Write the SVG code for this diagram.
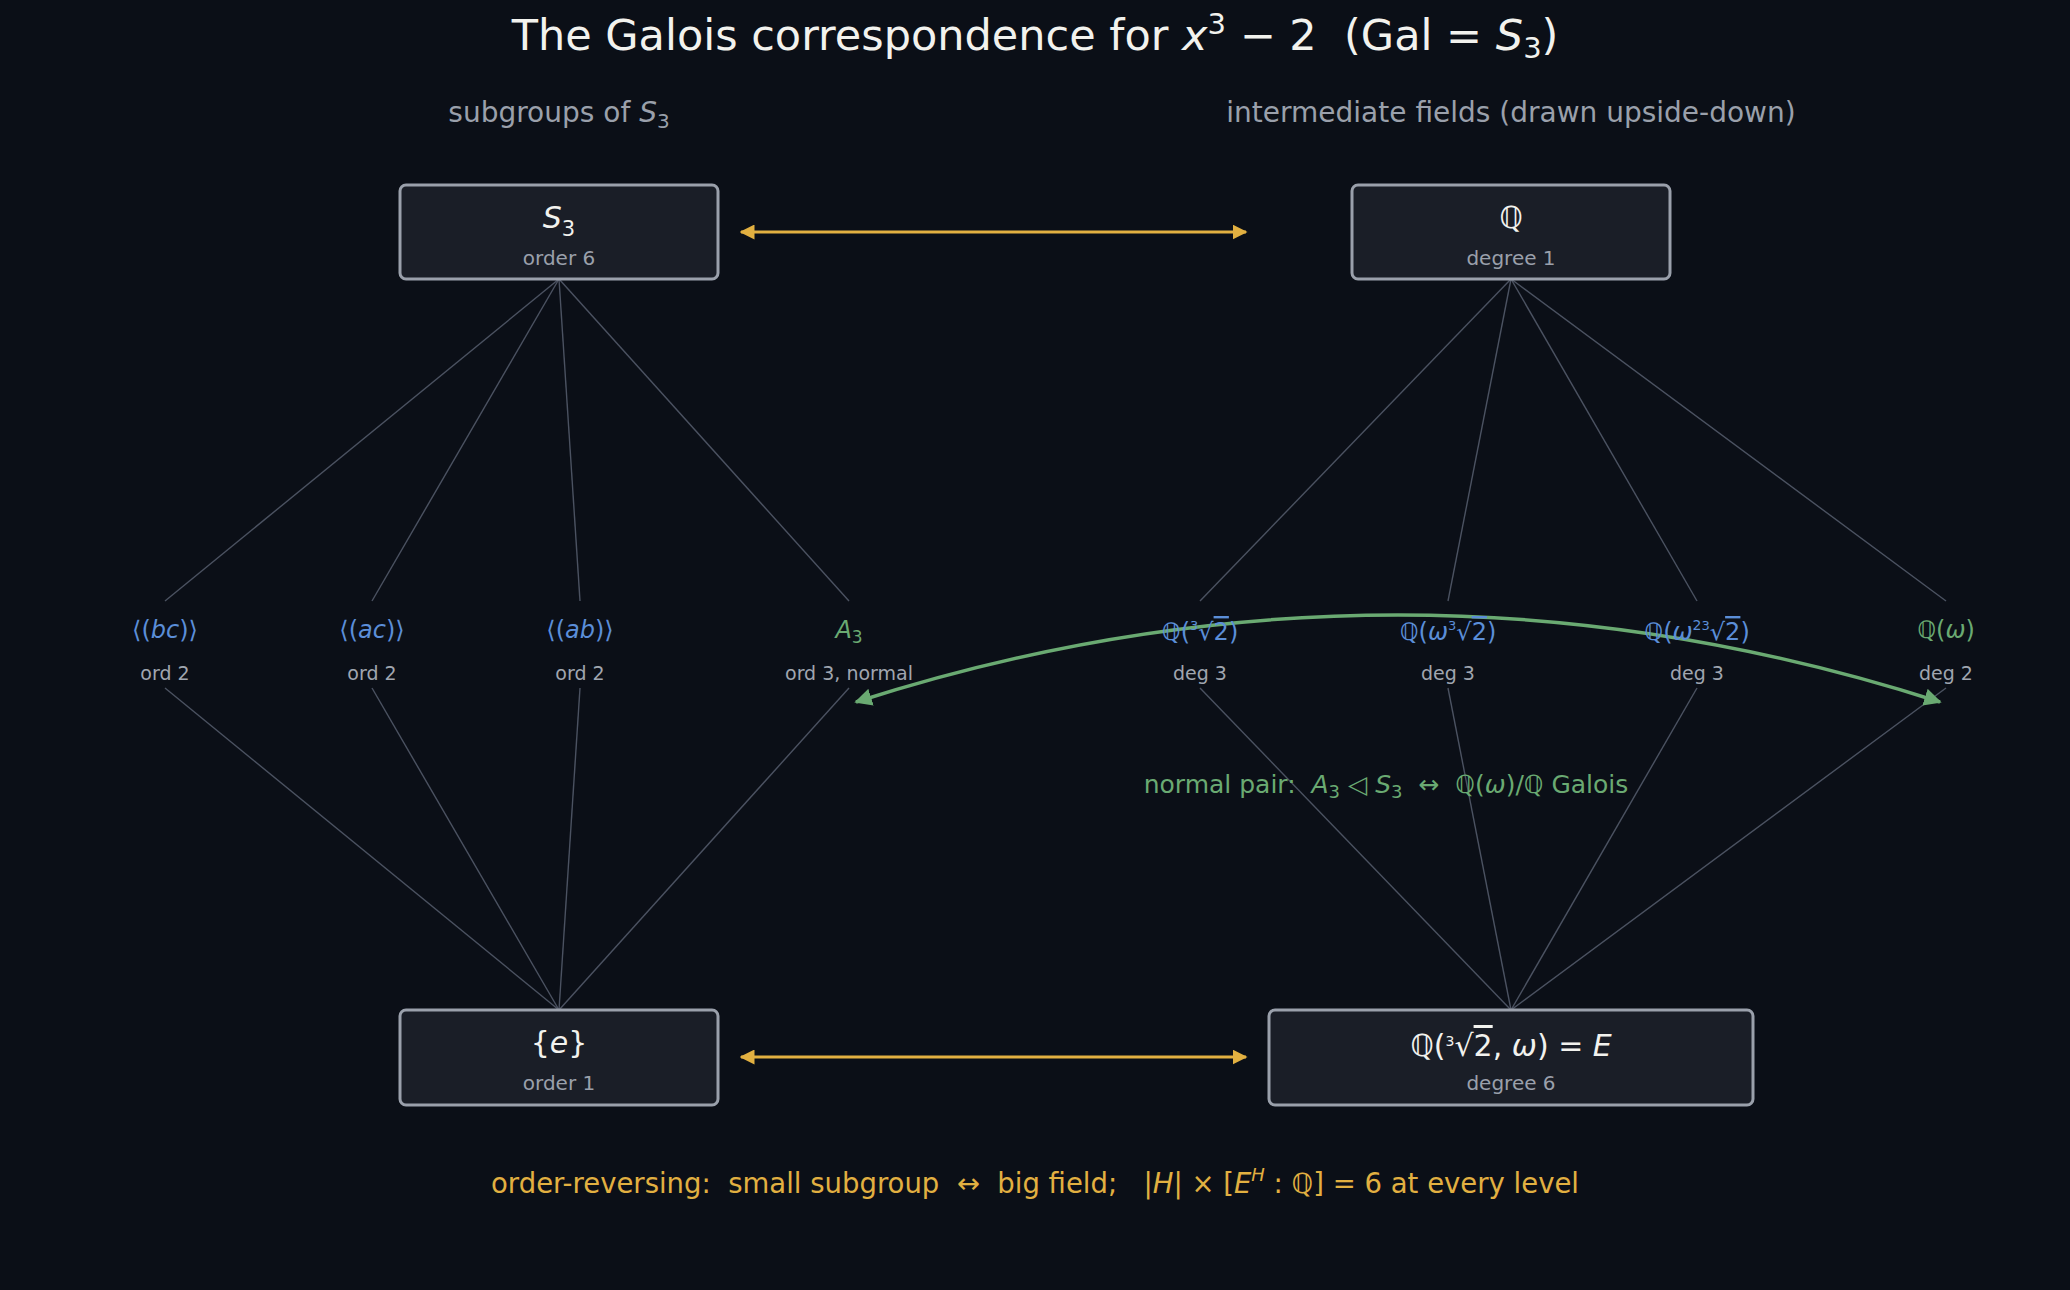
<svg xmlns="http://www.w3.org/2000/svg" width="2070" height="1290" viewBox="0 0 2070 1290" xml:space="preserve">
<defs>
<style>
text{font-family:"DejaVu Sans","Noto Sans",sans-serif;text-anchor:middle;white-space:pre}
.title{font-size:43px;fill:#f2f2ee}
.head{font-size:28px;fill:#9aa0ab}
.box{fill:#1a1e27;stroke:#9aa0ab;stroke-width:3}
.main{font-size:30px;fill:#f2f2ee}
.sub{font-size:20px;fill:#9aa0ab}
.lbl{font-size:24px;fill:#5b8ed8}
.lblg{font-size:24px;fill:#6aaa72}
.small{font-size:19px;fill:#a0a6b0}
.edge{stroke:#4b5261;stroke-width:1.4;fill:none}
.corr{stroke:#e2b041;stroke-width:3;fill:none}
.i{font-style:italic}
.ov{text-decoration:overline}
</style>
<marker id="ay" viewBox="0 0 10 10" refX="9" refY="5" markerWidth="5" markerHeight="5" orient="auto-start-reverse"><path d="M0,0 L10,5 L0,10 z" fill="#e2b041"/></marker>
<marker id="ag" viewBox="0 0 10 10" refX="9" refY="5" markerWidth="5" markerHeight="5" orient="auto-start-reverse"><path d="M0,0 L10,5 L0,10 z" fill="#6aaa72"/></marker>
</defs>
<rect width="2070" height="1290" fill="#0b0f17"/>
<text class="title" x="1035" y="50">The Galois correspondence for <tspan class="i">x</tspan><tspan dy="-16" font-size="29">3</tspan><tspan dy="16"> − 2  (Gal = </tspan><tspan class="i">S</tspan><tspan dy="8" font-size="29">3</tspan><tspan dy="-8">)</tspan></text>
<text class="head" x="559" y="122">subgroups of <tspan class="i">S</tspan><tspan dy="6" font-size="20">3</tspan></text>
<text class="head" x="1511" y="122">intermediate fields (drawn upside-down)</text>
<g id="connectors">
<line class="edge" x1="559" y1="279" x2="165" y2="601"/>
<line class="edge" x1="559" y1="279" x2="372" y2="601"/>
<line class="edge" x1="559" y1="279" x2="580" y2="601"/>
<line class="edge" x1="559" y1="279" x2="849" y2="601"/>
<line class="edge" x1="165" y1="688" x2="559" y2="1010"/>
<line class="edge" x1="372" y1="688" x2="559" y2="1010"/>
<line class="edge" x1="580" y1="688" x2="559" y2="1010"/>
<line class="edge" x1="849" y1="688" x2="559" y2="1010"/>
<line class="edge" x1="1511" y1="279" x2="1200" y2="601"/>
<line class="edge" x1="1511" y1="279" x2="1448" y2="601"/>
<line class="edge" x1="1511" y1="279" x2="1697" y2="601"/>
<line class="edge" x1="1511" y1="279" x2="1946" y2="601"/>
<line class="edge" x1="1200" y1="688" x2="1511" y2="1010"/>
<line class="edge" x1="1448" y1="688" x2="1511" y2="1010"/>
<line class="edge" x1="1697" y1="688" x2="1511" y2="1010"/>
<line class="edge" x1="1946" y1="688" x2="1511" y2="1010"/>
<line class="corr" x1="741" y1="232" x2="1246" y2="232" marker-start="url(#ay)" marker-end="url(#ay)"/>
<line class="corr" x1="741" y1="1057" x2="1246" y2="1057" marker-start="url(#ay)" marker-end="url(#ay)"/>
<path d="M856,702 Q1398,528 1940,702" stroke="#6aaa72" stroke-width="3.5" fill="none" marker-start="url(#ag)" marker-end="url(#ag)"/>
</g>
<g id="n-S3"><rect class="box" x="400" y="185" width="318" height="94" rx="6"/><text class="main" x="559" y="228"><tspan class="i">S</tspan><tspan dy="8" font-size="21">3</tspan></text><text class="sub" x="559" y="265">order 6</text></g>
<g id="n-Q"><rect class="box" x="1352" y="185" width="318" height="94" rx="6"/><text class="main" x="1511" y="228">ℚ</text><text class="sub" x="1511" y="265">degree 1</text></g>
<g id="n-e"><rect class="box" x="400" y="1010" width="318" height="95" rx="6"/><text class="main" x="559" y="1053">{<tspan class="i">e</tspan>}</text><text class="sub" x="559" y="1090">order 1</text></g>
<g id="n-E"><rect class="box" x="1269" y="1010" width="484" height="95" rx="6"/><text class="main" x="1511" y="1056" font-size="28">ℚ(<tspan dy="-10" font-size="14">3</tspan><tspan dy="10">√</tspan><tspan class="ov">2</tspan>, <tspan class="i">ω</tspan>) = <tspan class="i">E</tspan></text><text class="sub" x="1511" y="1090">degree 6</text></g>
<g id="n-bc"><text class="lbl" x="165" y="638">⟨(<tspan class="i">bc</tspan>)⟩</text><text class="small" x="165" y="680">ord 2</text></g>
<g id="n-ac"><text class="lbl" x="372" y="638">⟨(<tspan class="i">ac</tspan>)⟩</text><text class="small" x="372" y="680">ord 2</text></g>
<g id="n-ab"><text class="lbl" x="580" y="638">⟨(<tspan class="i">ab</tspan>)⟩</text><text class="small" x="580" y="680">ord 2</text></g>
<g id="n-A3"><text class="lblg" x="849" y="638"><tspan class="i">A</tspan><tspan dy="5" font-size="17">3</tspan></text><text class="small" x="849" y="680">ord 3, normal</text></g>
<g id="n-Qc"><text class="lbl" x="1200" y="640">ℚ(<tspan dy="-10" font-size="13">3</tspan><tspan dy="10">√</tspan><tspan class="ov">2</tspan>)</text><text class="small" x="1200" y="680">deg 3</text></g>
<g id="n-Qwc"><text class="lbl" x="1448" y="640">ℚ(<tspan class="i">ω</tspan><tspan dy="-10" font-size="13">3</tspan><tspan dy="10">√</tspan><tspan class="ov">2</tspan>)</text><text class="small" x="1448" y="680">deg 3</text></g>
<g id="n-Qw2c"><text class="lbl" x="1697" y="640">ℚ(<tspan class="i">ω</tspan><tspan dy="-10" font-size="14">2</tspan><tspan font-size="13">3</tspan><tspan dy="10">√</tspan><tspan class="ov">2</tspan>)</text><text class="small" x="1697" y="680">deg 3</text></g>
<g id="n-Qw"><text class="lblg" x="1946" y="638">ℚ(<tspan class="i">ω</tspan>)</text><text class="small" x="1946" y="680">deg 2</text></g>
<text x="1386" y="793" font-size="25" fill="#6aaa72">normal pair:  <tspan class="i">A</tspan><tspan dy="5" font-size="18">3</tspan><tspan dy="-5"> ◁ </tspan><tspan class="i">S</tspan><tspan dy="5" font-size="18">3</tspan><tspan dy="-5">  ↔  ℚ(</tspan><tspan class="i">ω</tspan>)/ℚ Galois</text>
<text x="1035" y="1193" font-size="27.5" fill="#e2b041">order-reversing:  small subgroup  ↔  big field;   |<tspan class="i">H</tspan>| × [<tspan class="i">E</tspan><tspan dy="-12" font-size="18" class="i">H</tspan><tspan dy="12"> : ℚ] = 6 at every level</tspan></text>
</svg>
